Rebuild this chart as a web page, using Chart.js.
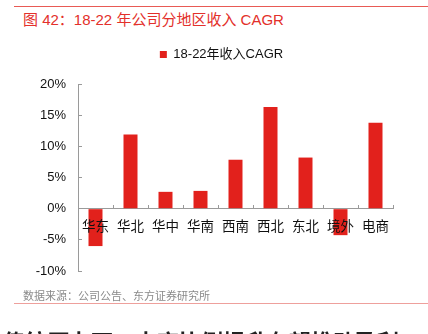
<!DOCTYPE html>
<html>
<head>
<meta charset="utf-8">
<script src="https://cdn.jsdelivr.net/npm/chart.js@4"></script>
<style>
  html, body { margin: 0; padding: 0; background: #fff; }
  body { width: 428px; height: 334px; position: relative; overflow: hidden;
         font-family: "Liberation Sans", "Noto Sans CJK SC", sans-serif; }
  .rule { position: absolute; left: 14px; right: 0; height: 1px; }
  #title { position: absolute; left: 23px; top: 8px; font-size: 15px; color: #e3302b; white-space: nowrap; }
  #source { position: absolute; left: 23px; top: 287px; font-size: 11px; color: #8a8a8a; white-space: nowrap; }
  #next { position: absolute; left: 3px; top: 324px; font-size: 22px; font-weight: bold; color: #222; white-space: nowrap; }
  #wrap { position: absolute; left: 0; top: 36px; width: 428px; height: 260px; }
</style>
</head>
<body>
<div class="rule" style="top:6px;background:#e85a55"></div>
<div id="title">图 42：18-22 年公司分地区收入 CAGR</div>
<div id="wrap"><canvas id="c"></canvas></div>
<div id="source">数据来源：公司公告、东方证券研究所</div>
<div class="rule" style="top:303px;background:#eea09c"></div>
<div id="next">传统压力下，电商比例提升有望推动盈利</div>
<script>
// 18-22年各地区收入复合增速（%）
const regions = ['华东', '华北', '华中', '华南', '西南', '西北', '东北', '境外', '电商'];
const cagr = [-6.0, 11.9, 2.7, 2.85, 7.85, 16.3, 8.2, -4.25, 13.8];
const seriesName = '18-22年收入CAGR';
const yTicks = { min: -10, max: 20, step: 5 };

const red = '#e2211c';
const axisGrey = '#9a9a9a';
const font = { family: '"Liberation Sans", "Noto Sans CJK SC", sans-serif', size: 13 };

// legend sits a bit right of centre and leaves a gap above the plot
const legendTweak = {
  id: 'legendTweak',
  beforeInit(chart) {
    const fit = chart.legend.fit;
    chart.legend.fit = function () {
      fit.call(this);
      this.height += 13;
    };
  },
  afterLayout(chart) {
    chart.legend.left += 25;
    chart.legend.right += 25;
  }
};

new Chart(document.getElementById('c'), {
  type: 'bar',
  data: {
    labels: regions,
    datasets: [{
      label: seriesName,
      data: cagr,
      backgroundColor: red,
      borderWidth: 0,
      categoryPercentage: 0.8,
      barPercentage: 0.5
    }]
  },
  options: {
    responsive: true,
    maintainAspectRatio: false,
    animation: false,
    layout: { padding: { left: 0, right: 35, top: 2, bottom: 25 } },
    plugins: {
      legend: {
        display: true,
        labels: { boxWidth: 7, boxHeight: 7, color: '#111', font, padding: 10 }
      },
      tooltip: { enabled: false }
    },
    scales: {
      x: {
        position: { y: 0 },
        grid: { drawOnChartArea: false, drawTicks: true, tickLength: -4, color: axisGrey },
        border: { color: axisGrey },
        // category names are printed over the negative bars
        ticks: { z: 1, color: '#111', font: { ...font, size: 13.5 }, padding: 15, maxRotation: 0, autoSkip: false }
      },
      y: {
        min: yTicks.min,
        max: yTicks.max,
        afterFit: (s) => { s.width = 78; },
        grid: { drawOnChartArea: false, drawTicks: true, tickLength: -4, color: axisGrey },
        border: { color: axisGrey },
        ticks: { stepSize: yTicks.step, color: '#111', font, padding: 16,
                 callback: (v) => v + '%' }
      }
    }
  },
  plugins: [legendTweak]
});
</script>
</body>
</html>
